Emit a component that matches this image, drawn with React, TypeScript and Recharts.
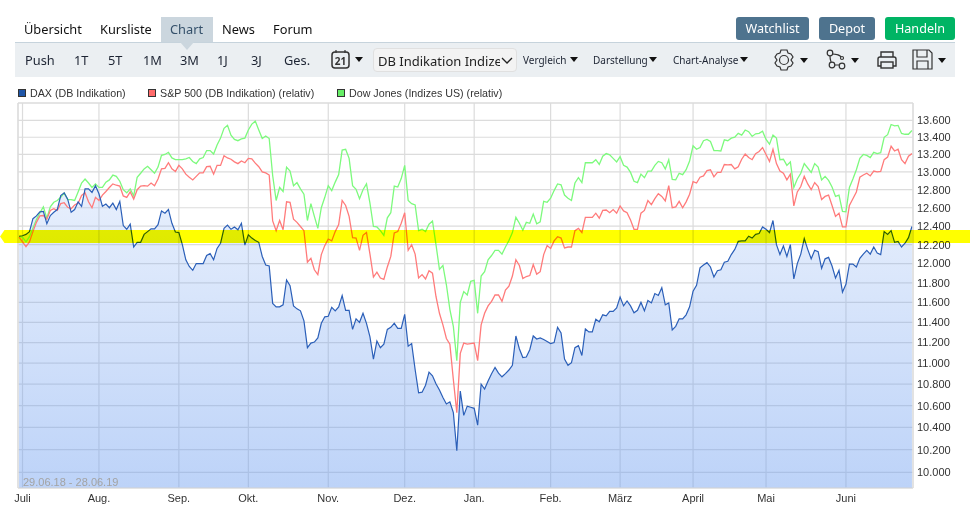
import React from 'react'
import { ComposedChart, Area, Line, XAxis, YAxis, CartesianGrid, ReferenceLine } from 'recharts'

const dax = [
  12290, 12295, 12310, 12340, 12480, 12510, 12555, 12560, 12425, 12515,
  12550, 12580, 12735, 12765, 12695, 12550, 12580, 12665, 12615, 12810,
  12810, 12770, 12845, 12755, 12615, 12640, 12600, 12650, 12580, 12670,
  12405, 12365, 12420, 12175, 12225, 12225, 12310, 12340, 12370, 12370,
  12415, 12565, 12540, 12580, 12430, 12335, 12330, 12200, 12040, 11970,
  11930, 12000, 12000, 12000, 12085, 12105, 12040, 12160, 12215, 12375,
  12410, 12365, 12390, 12360, 12430, 12195, 12305, 12270, 12245, 12225,
  12075, 11985, 11975, 11590, 11555, 11555, 11575, 11830, 11770, 11565,
  11535, 11515, 11415, 11150, 11195, 11205, 11245, 11390, 11455, 11460,
  11550, 11515, 11555, 11670, 11520, 11520, 11330, 11435, 11400, 11490,
  11390, 11255, 11040, 11215, 11150, 11185, 11330, 11350, 11390, 11340,
  11340, 11480, 11165, 11190, 10940, 10720, 10725, 10790, 10915, 10880,
  10805, 10745, 10675, 10615, 10635, 10535, 10190, 10735, 10510, 10595,
  10585, 10575, 10420, 10800, 10755, 10830, 10900, 10960, 10905, 10870,
  10900, 10935, 10980, 11265, 11140, 11055, 11060, 11130, 11265, 11235,
  11245, 11230, 11210, 11190, 11200, 11350, 11295, 11040, 10980, 11005,
  11150, 11170, 11075, 11335, 11305, 11305, 11430, 11405, 11475, 11465,
  11510, 11510, 11545, 11655, 11565, 11615, 11565, 11495, 11520, 11600,
  11515, 11620, 11595, 11690, 11670, 11750, 11575, 11595, 11325, 11360,
  11435, 11435, 11475, 11555, 11715, 11775, 11955, 11985, 12010, 11965,
  11860, 11925, 11935, 12015, 12025, 12095, 12150, 12235, 12240, 12240,
  12290, 12270, 12310, 12320, 12390, 12365, 12330, 12460, 12200, 12095,
  12185, 12075, 12200, 11840, 12000, 12100, 12265, 12150, 12050, 12140,
  12125, 11950, 12050, 12065, 11975, 11850, 11930, 11705, 11785, 11995,
  11995, 11965, 12055, 12100, 12140, 12100, 12175, 12110, 12095, 12340,
  12310, 12350, 12225, 12235, 12175, 12215, 12275, 12395,
]

const sp500 = [
  12280, 12230, 12180, 12230, 12340, 12440, 12510, 12515, 12475, 12570,
  12590, 12570, 12645, 12655, 12605, 12590, 12630, 12650, 12735, 12765,
  12665, 12600, 12715, 12680, 12740, 12780, 12825, 12865, 12850, 12840,
  12730, 12715, 12775, 12695, 12800, 12840, 12845, 12840, 12875, 12845,
  12920, 13035, 13040, 13105, 13035, 13005, 13075, 13035, 12975, 12940,
  12910, 12950, 12990, 12990, 13060, 13065, 12975, 13075, 13075, 13185,
  13160, 13145, 13115, 13095, 13125, 13105, 13155, 13150, 13100, 13060,
  13000, 12990, 12965, 12455, 12350, 12460, 12360, 12665, 12660, 12475,
  12440, 12395, 12350, 12015, 12055, 11935, 11885, 12095, 12190, 12260,
  12240, 12340, 12415, 12680, 12625, 12505, 12275, 12270, 12140, 12300,
  12330, 12100, 11860, 11910, 11850, 11835, 11965, 12075, 12325, 12340,
  12430, 12545, 12140, 12200, 12100, 11850, 11885, 11840, 11925, 11900,
  11660, 11490, 11375, 11240, 11185, 10845, 10535, 11095, 11195, 11185,
  11190, 11195, 11025, 11375, 11490, 11565, 11610, 11675, 11675, 11610,
  11725, 11765, 11870, 12040, 11980, 11845, 11865, 11875, 11990, 11890,
  11915, 12095, 12190, 12160, 12240, 12285, 12270, 12165, 12175, 12175,
  12350, 12375, 12330, 12495, 12495, 12495, 12540, 12485, 12570, 12575,
  12545, 12580, 12540, 12620, 12565, 12545, 12465, 12365, 12365, 12540,
  12570, 12680, 12635, 12700, 12755, 12725, 12675, 12845, 12600, 12610,
  12670, 12600, 12665, 12750, 12890, 12875, 12940, 12955, 13015, 13025,
  12945, 12995, 12995, 13085, 13080, 13085, 13035, 13060, 13145, 13205,
  13165, 13140, 13210, 13235, 13280, 13200, 13120, 13260, 13095, 13010,
  12985, 12910, 12975, 12620, 12775, 12835, 12950, 12865, 12800, 12880,
  12835, 12690, 12725, 12740, 12625, 12505, 12540, 12390, 12390, 12625,
  12700, 12775, 12940, 12965, 12985, 12955, 13010, 13000, 13005, 13140,
  13170, 13295, 13240, 13260, 13140, 13095, 13180, 13210,
]

const dow = [
  12285, 12280, 12230, 12285, 12375, 12470, 12545, 12610, 12485, 12610,
  12660, 12680, 12715, 12765, 12690, 12690, 12680, 12775, 12875, 12920,
  12875, 12825, 12865, 12825, 12825, 12885, 12910, 12965, 12950, 12895,
  12800, 12765, 12810, 12730, 12940, 12985, 13035, 13065, 13025, 12985,
  13055, 13190, 13200, 13225, 13160, 13140, 13140, 13140, 13150, 13165,
  13120, 13095, 13150, 13165, 13245, 13245, 13205, 13310, 13390, 13505,
  13540, 13425, 13375, 13360, 13380, 13390, 13485, 13555, 13590, 13485,
  13385, 13415, 13385, 12960, 12680, 12825, 12780, 13055, 13010, 12845,
  12880, 12810, 12750, 12460, 12645, 12505, 12375, 12600, 12715, 12845,
  12790, 12885, 12970, 13250, 13260, 13155, 12845, 12805, 12700, 12800,
  12865, 12650, 12395, 12390, 12350, 12300, 12490, 12545, 12840, 12830,
  12925, 13075, 12680, 12645, 12630, 12350, 12365, 12340, 12420, 12455,
  12200, 11940, 11980, 11780, 11530, 11360, 11025, 11600, 11710, 11675,
  11815, 11825, 11490, 11870, 11915, 12040, 12085, 12140, 12140, 12100,
  12175, 12245, 12330, 12495, 12430, 12355, 12440, 12430, 12530, 12425,
  12445, 12670, 12660, 12705, 12790, 12865, 12855, 12740, 12705, 12680,
  12875, 12935, 12880, 13105, 13105, 13105, 13140, 13085, 13180, 13210,
  13195, 13155, 13115, 13175, 13075, 13055, 12995, 12895, 12880, 12975,
  12935, 13010, 13010, 13075, 13120, 13105, 13035, 13140, 12915, 12910,
  12985, 12970, 13025, 13125, 13300, 13260, 13280, 13360, 13375, 13350,
  13245, 13245, 13240, 13370, 13360, 13390, 13400, 13445, 13425, 13485,
  13465, 13410, 13440, 13445, 13470, 13375, 13320, 13425, 13390, 13140,
  13145, 13075, 13115, 12825, 12920, 12985, 13095, 13045, 12995, 13095,
  13055, 12910, 12950, 12905, 12830, 12725, 12740, 12560, 12555, 12825,
  12920, 13025, 13155, 13200, 13190, 13165, 13225, 13210, 13220, 13400,
  13430, 13550, 13535, 13540, 13445, 13435, 13435, 13480,
]

const monthTicks = [1, 23, 46, 66, 89, 111, 131, 153, 173, 194, 215, 238]
const monthLabels = ['Juli', 'Aug.', 'Sep.', 'Okt.', 'Nov.', 'Dez.', 'Jan.', 'Feb.', 'März', 'April', 'Mai', 'Juni']
const priceTicks = [
  13600, 13400, 13200, 13000, 12800, 12600, 12400, 12200, 12000, 11800,
  11600, 11400, 11200, 11000, 10800, 10600, 10400, 10200, 10000,
]
const tabs = [['Übersicht', 24], ['Kursliste', 100], ['Chart', 170], ['News', 222], ['Forum', 273]] as const
const ranges = [['Push', 25], ['1T', 74], ['5T', 108], ['1M', 143], ['3M', 180], ['1J', 217], ['3J', 251], ['Ges.', 284]] as const
const menus = [['Vergleich', 523, 570], ['Darstellung', 593, 649], ['Chart-Analyse', 673, 740]] as const
const buttons = [['Watchlist', 736, 73, '#4e738e'], ['Depot', 819, 56, '#4e738e'], ['Handeln', 885, 70, '#00b464']] as const
const legendItems = [
  ['DAX (DB Indikation)', 18, '#1f56a8'],
  ['S&P 500 (DB Indikation) (relativ)', 148, '#ff6b6b'],
  ['Dow Jones (Indizes US) (relativ)', 337, '#66ee66'],
] as const

const chartData = dax.map((d, i) => ({ i, dax: d, sp500: sp500[i], dow: dow[i] }))

const uiFont = '"Noto Sans", sans-serif'
const chartFont = '"Liberation Sans", Arial, sans-serif'
const gridColor = '#dcdcdc'

const Label = ({ x, y, size = 12.8, color = '#1d2433', children }: any) => (
  <div style={{ position: 'absolute', left: x, top: y, fontFamily: uiFont, fontSize: size, color, lineHeight: '18px', whiteSpace: 'nowrap' }}>
    {children}
  </div>
)

const Caret = ({ x, y }: { x: number; y: number }) => (
  <div style={{ position: 'absolute', left: x, top: y, width: 0, height: 0, borderLeft: '4.5px solid transparent', borderRight: '4.5px solid transparent', borderTop: '5px solid #111' }} />
)

const Icons = () => (
  <svg width={970} height={80} style={{ position: 'absolute', left: 0, top: 0 }} fill="none" stroke="#333" strokeWidth={1.2}>
    {/* calendar */}
    <rect x={332} y={52} width={17} height={16} rx={3} strokeWidth={1.5} />
    <path d="M336 50v3M345 50v3" />
    <text x={340.5} y={65} fontSize={10} fontWeight="bold" textAnchor="middle" fontFamily={uiFont} fill="#333" stroke="none">21</text>
    {/* gear */}
    <path d="M781 51h6l1 3 3 1 2 3-2 3 2 3-2 3-3 1-1 3h-6l-1-3-3-1-2-3 2-3-2-3 2-3 3-1z" transform="translate(0 -1)" />
    <circle cx={784} cy={60} r={4.5} />
    {/* branches */}
    <circle cx={830} cy={53} r={2.8} />
    <circle cx={832} cy={65} r={2.8} />
    <circle cx={842} cy={66} r={2.8} />
    <circle cx={842} cy={58} r={1.5} />
    <path d="M830 56c0 4 1 5 1 6M835 65h4M832 54c3 0 8 1 9 3" />
    {/* printer */}
    <path d="M881 57v-5h12v5M881 66h-3v-7a2 2 0 0 1 2-2h14a2 2 0 0 1 2 2v7h-3" strokeWidth={1.4} />
    <rect x={881} y={62} width={12} height={6} strokeWidth={1.4} />
    {/* floppy */}
    <path d="M913 50h16l3 3v16h-19z" strokeWidth={1.2} />
    <path d="M917 50v7h10v-7M917 69v-8h11v8" strokeWidth={1.2} />
  </svg>
)

const Header = () => (
  <>
    {tabs.map(([t, x]) => (
      <Label key={t} x={x} y={20} color={t === 'Chart' ? '#34506a' : '#111'}>{t}</Label>
    ))}
    {buttons.map(([t, x, w, bg]) => (
      <div key={t} style={{ position: 'absolute', left: x, top: 17, width: w, height: 23, lineHeight: '23px', background: bg, borderRadius: 3, color: '#fff', fontFamily: uiFont, fontSize: 12.6, textAlign: 'center' }}>{t}</div>
    ))}
    {ranges.map(([t, x]) => (
      <Label key={t} x={x} y={51}>{t}</Label>
    ))}
    <Icons />
    <Caret x={354.5} y={57} />
    <div style={{ position: 'absolute', left: 373, top: 48, width: 144, height: 24, background: '#f3f3f3', border: '1px solid #e0e0e0', borderRadius: 4, overflow: 'hidden', boxSizing: 'border-box' }}>
      <div style={{ position: 'absolute', left: 4, top: 3, width: 122, overflow: 'hidden', fontFamily: uiFont, fontSize: 13, lineHeight: '18px', color: '#222', whiteSpace: 'nowrap' }}>DB Indikation Indizes</div>
      <svg width={12} height={8} style={{ position: 'absolute', left: 127, top: 8 }}>
        <path d="M1 1l5 5 5-5" fill="none" stroke="#222" strokeWidth={1.3} />
      </svg>
    </div>
    {menus.map(([t, x, cx]) => (
      <React.Fragment key={t}>
        <Label x={x} y={51} size={10}>{t}</Label>
        <Caret x={cx} y={57} />
      </React.Fragment>
    ))}
    <Caret x={800} y={58} />
    <Caret x={851} y={58} />
    <Caret x={938} y={58} />
  </>
)

export default function App() {
  return (
    <div style={{ position: 'absolute', left: 0, top: 0, width: 970, height: 511, overflow: 'hidden', background: '#fff' }}>
      <div style={{ position: 'absolute', left: 15, top: 42, width: 940, height: 35, background: '#ebeff2', borderTop: '1px solid #c6d3dc', boxSizing: 'border-box' }} />
      <div style={{ position: 'absolute', left: 161, top: 17, width: 52, height: 25, background: '#cbd6de' }} />
      <div style={{ position: 'absolute', left: 180, top: 42, width: 0, height: 0, borderLeft: '7px solid transparent', borderRight: '7px solid transparent', borderTop: '8px solid #cbd6de' }} />
      <Header />

      {legendItems.map(([t, x, c]) => (
        <React.Fragment key={t}>
          <div style={{ position: 'absolute', left: x, top: 89, width: 6, height: 6, background: c, border: '1px solid #333' }} />
          <div style={{ position: 'absolute', left: x + 12, top: 86, fontFamily: chartFont, fontSize: 10.7, lineHeight: '14px', color: '#333', whiteSpace: 'nowrap' }}>{t}</div>
        </React.Fragment>
      ))}

      <ComposedChart
        width={970}
        height={511}
        data={chartData}
        margin={{ top: 103, right: 0, bottom: 0, left: 18 }}
        style={{ position: 'absolute', left: 0, top: 0 }}
      >
        <defs>
          <linearGradient id="daxFill" x1="0" y1="0" x2="0" y2="1">
            <stop offset="0%" stopColor="#6f9ff0" stopOpacity={0.16} />
            <stop offset="100%" stopColor="#6f9ff0" stopOpacity={0.46} />
          </linearGradient>
        </defs>
        <CartesianGrid stroke={gridColor} strokeWidth={1.2} />
        <XAxis
          dataKey="i"
          type="number"
          domain={[-0.3, 257.3]}
          ticks={monthTicks}
          interval={0}
          height={23}
          tickFormatter={(v: number) => monthLabels[monthTicks.indexOf(v)]}
          tick={{ fontFamily: chartFont, fontSize: 11, fill: '#333' }}
          tickLine={false}
          tickSize={0}
          tickMargin={6}
          axisLine={{ stroke: gridColor, strokeWidth: 1.2 }}
        />
        <YAxis
          orientation="right"
          scale="log"
          domain={[9864, 13807]}
          allowDataOverflow
          ticks={priceTicks}
          interval={0}
          width={57}
          tickFormatter={(v: number) => v.toLocaleString('de-DE')}
          tick={{ fontFamily: chartFont, fontSize: 11, fill: '#333' }}
          tickLine={false}
          tickSize={0}
          tickMargin={4}
          axisLine={{ stroke: gridColor, strokeWidth: 1.2 }}
        />
        <ReferenceLine x={-0.3} stroke={gridColor} strokeWidth={1.2} />
        <ReferenceLine y={13807} stroke={gridColor} strokeWidth={1.2} />
        <Area dataKey="dax" type="linear" stroke="none" fill="url(#daxFill)" fillOpacity={1} dot={false} activeDot={false} isAnimationActive={false} />
        <Line dataKey="dow" type="linear" stroke="#7dfa7d" strokeWidth={1.3} dot={false} activeDot={false} isAnimationActive={false} />
        <Line dataKey="sp500" type="linear" stroke="#ff7b7b" strokeWidth={1.3} dot={false} activeDot={false} isAnimationActive={false} />
        <Line dataKey="dax" type="linear" stroke="#2b5fb8" strokeWidth={1.2} dot={false} activeDot={false} isAnimationActive={false} />
      </ComposedChart>

      <div style={{ position: 'absolute', left: 23, top: 475, fontFamily: chartFont, fontSize: 11, lineHeight: '14px', color: '#a3a3a3' }}>29.06.18 - 28.06.19</div>

      {/* yellow marker over the chart, multiplies with what lies under it */}
      <svg width={970} height={511} style={{ position: 'absolute', left: 0, top: 0, mixBlendMode: 'multiply', pointerEvents: 'none' }}>
        <path d="M0 236.5L4.5 230H970V243H4.5z" fill="#ffff00" />
      </svg>
    </div>
  )
}
